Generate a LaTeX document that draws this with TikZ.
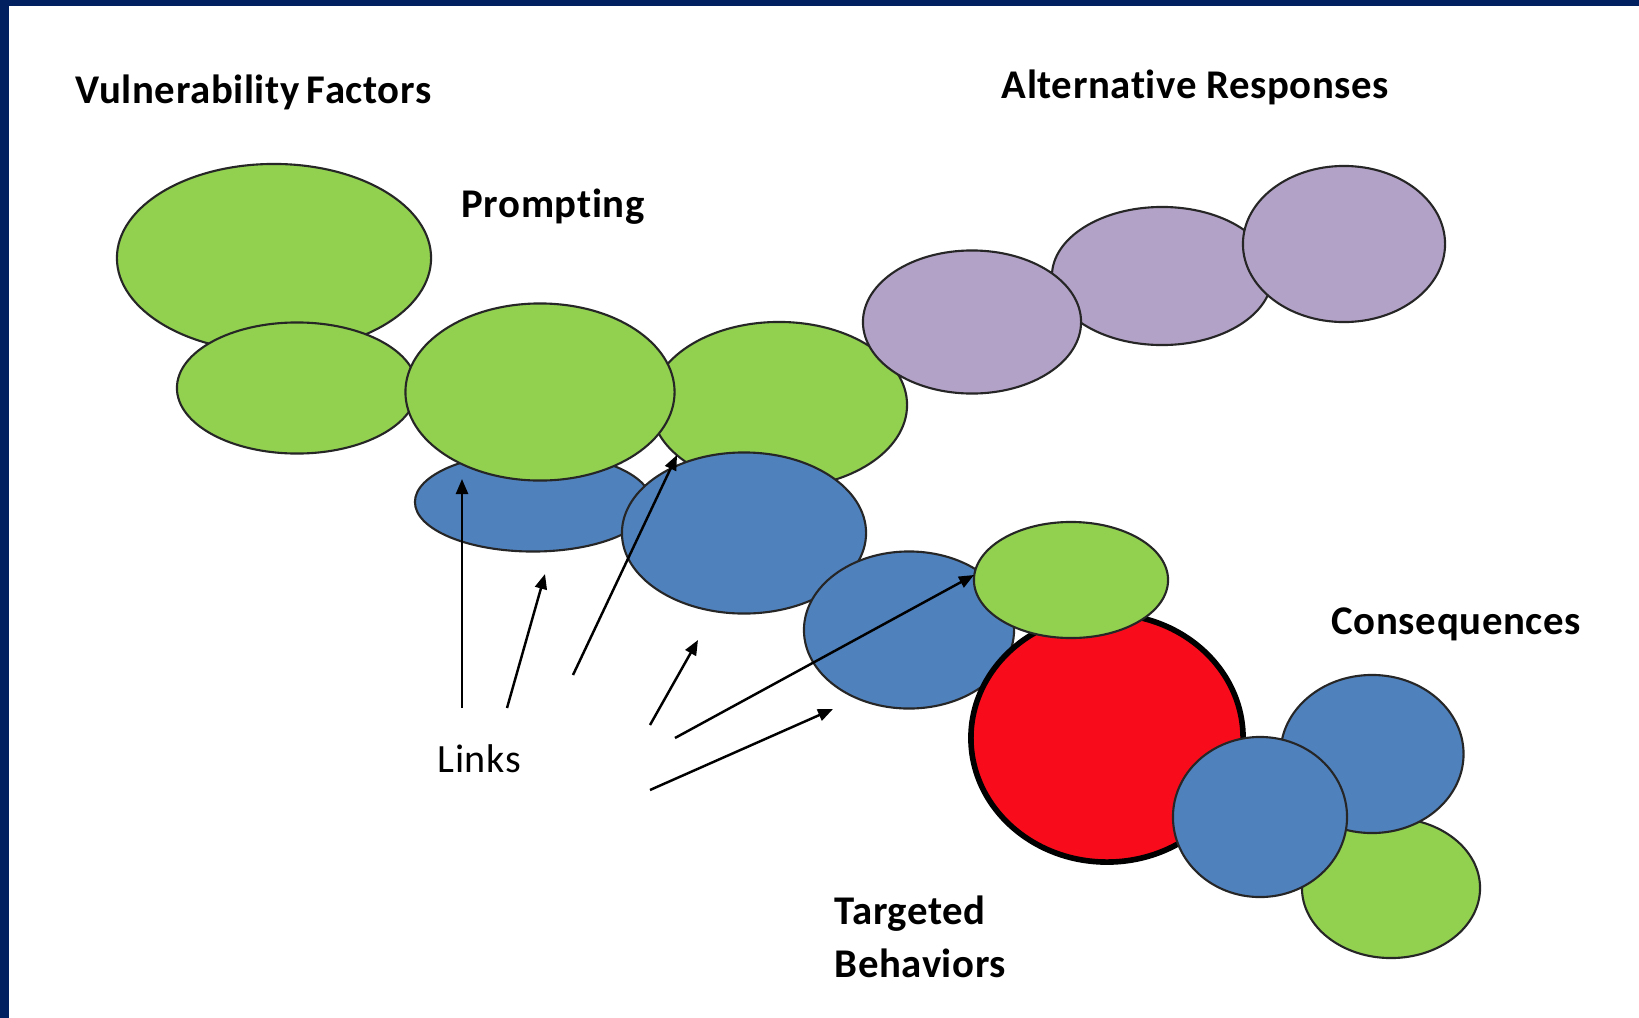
\documentclass[tikz,border=0pt]{standalone}
\usepackage{fontspec}
\setmainfont{Carlito}
\newfontfamily\headfont[LetterSpace=1.5, Ligatures=NoCommon]{Carlito}
\usetikzlibrary{shapes.geometric, arrows.meta}
\definecolor{chgreen}{HTML}{92D050}
\definecolor{chblue}{HTML}{4F81BD}
\definecolor{chpurple}{HTML}{B3A2C7}
\definecolor{chred}{HTML}{F80C1C}
\definecolor{framenavy}{HTML}{002060}

\begin{document}
\begin{tikzpicture}[x=0.01cm, y=-0.01cm,
  oval/.style={ellipse, draw=black!85, line width=0.6pt, inner sep=0pt},
  arr/.style={-{Triangle[length=0.15cm, width=0.12cm]}, line width=0.7pt},
  phase/.style={font=\headfont\bfseries\fontsize{11.6}{14.2}\selectfont,
                anchor=base west, inner sep=0pt, align=left},
  lbl/.style={font=\headfont\fontsize{11.4}{14.2}\selectfont, anchor=base west, inner sep=0pt},
]
% ---- frame ----
\useasboundingbox (0,0) rectangle (1639,1018);
\fill[framenavy] (0,0) rectangle (1639,1018);
\fill[white] (9,6) rectangle (1639,1018);

% ---- Vulnerability factors + prompting chain ----
\node[oval, fill=chgreen, minimum width=3.14cm, minimum height=1.88cm] (vfbig) at (274,258) {};
\node[oval, fill=chgreen, minimum width=2.40cm, minimum height=1.31cm] (vflow) at (297,388) {};
\node[oval, fill=chgreen, minimum width=2.56cm, minimum height=1.66cm] (cue) at (779,405) {};

% ---- Alternative responses ----
\node[oval, fill=chpurple, minimum width=2.20cm, minimum height=1.38cm] (alt2) at (1162,276) {};
\node[oval, fill=chpurple, minimum width=2.18cm, minimum height=1.43cm] (alt1) at (972,322) {};
\node[oval, fill=chpurple, minimum width=2.02cm, minimum height=1.56cm] (alt3) at (1344,244) {};

% ---- Links chain (blue) ----
\node[oval, fill=chblue, minimum width=2.36cm, minimum height=0.99cm] (link1) at (533,502) {};
\node[oval, fill=chgreen, minimum width=2.69cm, minimum height=1.77cm] (prompt) at (540,392) {};
\node[oval, fill=chblue, minimum width=2.44cm, minimum height=1.61cm] (link2) at (744,533) {};
\node[oval, fill=chblue, minimum width=2.10cm, minimum height=1.57cm] (link3) at (909,630) {};

% ---- Targeted behavior ----
\node[oval, fill=chred, draw=black, line width=1.6pt,
      minimum width=2.72cm, minimum height=2.48cm] (target) at (1107,738) {};
\node[oval, fill=chgreen, minimum width=1.94cm, minimum height=1.16cm] (tgreen) at (1071,580) {};

% ---- Consequences ----
\node[oval, fill=chgreen, minimum width=1.78cm, minimum height=1.40cm] (cons3) at (1391,888) {};
\node[oval, fill=chblue, minimum width=1.83cm, minimum height=1.58cm] (cons1) at (1372,754) {};
\node[oval, fill=chblue, minimum width=1.74cm, minimum height=1.60cm] (cons2) at (1260,817) {};

% ---- headings ----
\node[phase] (hvf) at (75,103) {Vulnerability\hspace{0.18em}Factors};
\node[phase] (hprompt) at (461,217) {Prompting};
\node[phase] (halt) at (1001,98) {Alternative Responses};
\node[phase] (hcons) at (1331,634) {Consequences};
\node[phase, font=\headfont\bfseries\fontsize{11.6}{15}\selectfont]
  (htarget) at (834,977) {Targeted\\Behaviors};
\node[lbl] (links) at (437,772) {Links};

% ---- link arrows ----
\coordinate (l1a) at (462,708); \coordinate (l1b) at (462,479);
\coordinate (l2a) at (507,708); \coordinate (l2b) at (545,574);
\coordinate (l3a) at (573,675); \coordinate (l3b) at (677,455);
\coordinate (l4a) at (650,725); \coordinate (l4b) at (698,640);
\coordinate (l5a) at (675,738); \coordinate (l5b) at (974,575);
\coordinate (l6a) at (650,790); \coordinate (l6b) at (833,709);
\draw[arr] (l1a) -- (l1b);
\draw[arr] (l2a) -- (l2b);
\draw[arr] (l3a) -- (l3b);
\draw[arr] (l4a) -- (l4b);
\draw[arr] (l5a) -- (l5b);
\draw[arr] (l6a) -- (l6b);

\end{tikzpicture}
\end{document}
